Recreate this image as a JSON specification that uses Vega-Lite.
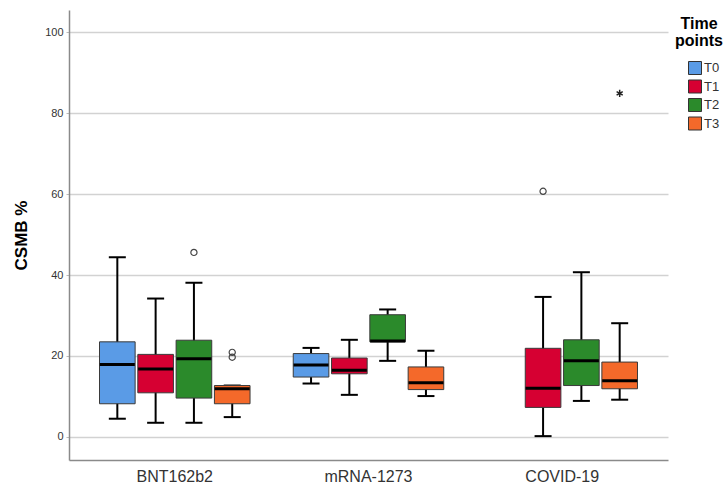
{
  "$schema": "https://vega.github.io/schema/vega-lite/v6.json",
  "autosize": {"type": "none"},
  "width": 599,
  "height": 450,
  "padding": {"left": 69, "top": 10, "right": 60, "bottom": 26},
  "background": "white",
  "config": {
    "view": {"stroke": null},
    "font": "Liberation Sans",
    "axis": {"labelFont": "Liberation Sans", "titleFont": "Liberation Sans"},
    "legend": {"labelFont": "Liberation Sans", "titleFont": "Liberation Sans"}
  },
  "datasets": {
    "boxes": [
      {"vaccine": "BNT162b2", "tp": "T0", "lo": 4.5, "q1": 8.2, "med": 17.9, "q3": 23.5, "hi": 44.4},
      {"vaccine": "BNT162b2", "tp": "T1", "lo": 3.5, "q1": 10.9, "med": 16.8, "q3": 20.4, "hi": 34.2},
      {"vaccine": "BNT162b2", "tp": "T2", "lo": 3.5, "q1": 9.6, "med": 19.3, "q3": 23.9, "hi": 38.1},
      {"vaccine": "BNT162b2", "tp": "T3", "lo": 4.9, "q1": 8.2, "med": 11.9, "q3": 12.7, "hi": 12.7},
      {"vaccine": "mRNA-1273", "tp": "T0", "lo": 13.2, "q1": 14.8, "med": 17.8, "q3": 20.6, "hi": 22.0},
      {"vaccine": "mRNA-1273", "tp": "T1", "lo": 10.4, "q1": 15.6, "med": 16.5, "q3": 19.5, "hi": 24.0},
      {"vaccine": "mRNA-1273", "tp": "T2", "lo": 18.8, "q1": 23.5, "med": 23.7, "q3": 30.2, "hi": 31.5},
      {"vaccine": "mRNA-1273", "tp": "T3", "lo": 10.1, "q1": 11.7, "med": 13.4, "q3": 17.3, "hi": 21.3},
      {"vaccine": "COVID-19", "tp": "T1", "lo": 0.2, "q1": 7.3, "med": 12.0, "q3": 21.9, "hi": 34.6},
      {"vaccine": "COVID-19", "tp": "T2", "lo": 8.9, "q1": 12.7, "med": 18.8, "q3": 24.0, "hi": 40.7},
      {"vaccine": "COVID-19", "tp": "T3", "lo": 9.2, "q1": 11.9, "med": 13.9, "q3": 18.5, "hi": 28.1}
    ],
    "outliers": [
      {"vaccine": "BNT162b2", "tp": "T2", "value": 45.6, "kind": "outlier"},
      {"vaccine": "BNT162b2", "tp": "T3", "value": 20.9, "kind": "outlier"},
      {"vaccine": "BNT162b2", "tp": "T3", "value": 19.7, "kind": "outlier"},
      {"vaccine": "COVID-19", "tp": "T1", "value": 60.7, "kind": "outlier"},
      {"vaccine": "COVID-19", "tp": "T3", "value": 84.9, "kind": "extreme"}
    ]
  },
  "encoding": {
    "x": {
      "field": "vaccine", "type": "nominal",
      "scale": {"domain": ["BNT162b2", "mRNA-1273", "COVID-19"], "paddingInner": 0, "paddingOuter": 0.046},
      "axis": {"title": null, "labelAngle": 0, "labelFontSize": 16, "labelColor": "#333333", "labelPadding": 8, "ticks": false, "domainColor": "#8a8a8a", "domainWidth": 1.5, "grid": false}
    },
    "xOffset": {
      "field": "tp", "type": "nominal",
      "scale": {"domain": ["T0", "T1", "T2", "T3"], "paddingInner": 0.07, "paddingOuter": 0.564}
    }
  },
  "layer": [
    {
      "data": {"name": "boxes"},
      "mark": {"type": "rule", "color": "black", "strokeWidth": 2},
      "encoding": {
        "y": {
          "field": "lo", "type": "quantitative",
          "scale": {"domain": [-5.7, 105.5], "nice": false, "zero": false},
          "axis": {"title": "CSMB %", "titleFontSize": 17, "titleFontWeight": "bold", "titleColor": "black", "titlePadding": 14,
                   "values": [0, 20, 40, 60, 80, 100], "labelFontSize": 11, "labelColor": "#333333", "labelPadding": 3,
                   "tickSize": 3, "tickColor": "#bbbbbb", "domainColor": "#8a8a8a", "domainWidth": 1.5,
                   "grid": true, "gridColor": "#d2d2d2", "gridWidth": 1.5}
        },
        "y2": {"field": "hi"}
      }
    },
    {
      "data": {"name": "boxes"},
      "mark": {"type": "tick", "color": "black", "thickness": 2, "size": 17, "opacity": 1},
      "encoding": {"y": {"field": "lo", "type": "quantitative"}}
    },
    {
      "data": {"name": "boxes"},
      "mark": {"type": "tick", "color": "black", "thickness": 2, "size": 17, "opacity": 1},
      "encoding": {"y": {"field": "hi", "type": "quantitative"}}
    },
    {
      "data": {"name": "boxes"},
      "mark": {"type": "bar", "stroke": "#3a3a3a", "strokeWidth": 1, "opacity": 1},
      "encoding": {
        "y": {"field": "q1", "type": "quantitative"},
        "y2": {"field": "q3"},
        "color": {
          "field": "tp", "type": "nominal",
          "scale": {"domain": ["T0", "T1", "T2", "T3"], "range": ["#5a9be6", "#d60032", "#2b8a2b", "#f4692a"]},
          "legend": {
            "title": ["Time", "points"], "orient": "none", "legendX": 606, "legendY": 6,
            "titleFontSize": 16, "titleFontWeight": "bold", "titleColor": "black", "titleAnchor": "middle", "titleAlign": "center",
            "titleLineHeight": 17, "titlePadding": 12,
            "symbolType": "square", "symbolSize": 169, "symbolStrokeColor": "#333333", "symbolStrokeWidth": 1, "symbolOpacity": 1,
            "symbolOffset": 10, "labelFontSize": 13, "labelColor": "#333333", "labelOffset": 2, "rowPadding": 0.5
          }
        }
      }
    },
    {
      "data": {"name": "boxes"},
      "mark": {"type": "tick", "color": "black", "thickness": 3, "size": 35, "opacity": 1},
      "encoding": {"y": {"field": "med", "type": "quantitative"}}
    },
    {
      "data": {"name": "outliers"},
      "transform": [{"filter": "datum.kind === 'outlier'"}],
      "mark": {"type": "point", "shape": "circle", "filled": false, "stroke": "#444444", "strokeWidth": 1.2, "size": 38, "opacity": 1},
      "encoding": {"y": {"field": "value", "type": "quantitative"}}
    },
    {
      "data": {"name": "outliers"},
      "transform": [{"filter": "datum.kind === 'extreme'"}],
      "mark": {"type": "point", "shape": "M0,-1L0,1M-0.87,-0.5L0.87,0.5M-0.87,0.5L0.87,-0.5", "filled": false, "stroke": "#222222", "strokeWidth": 1.5, "size": 50, "opacity": 1},
      "encoding": {"y": {"field": "value", "type": "quantitative"}}
    }
  ]
}
